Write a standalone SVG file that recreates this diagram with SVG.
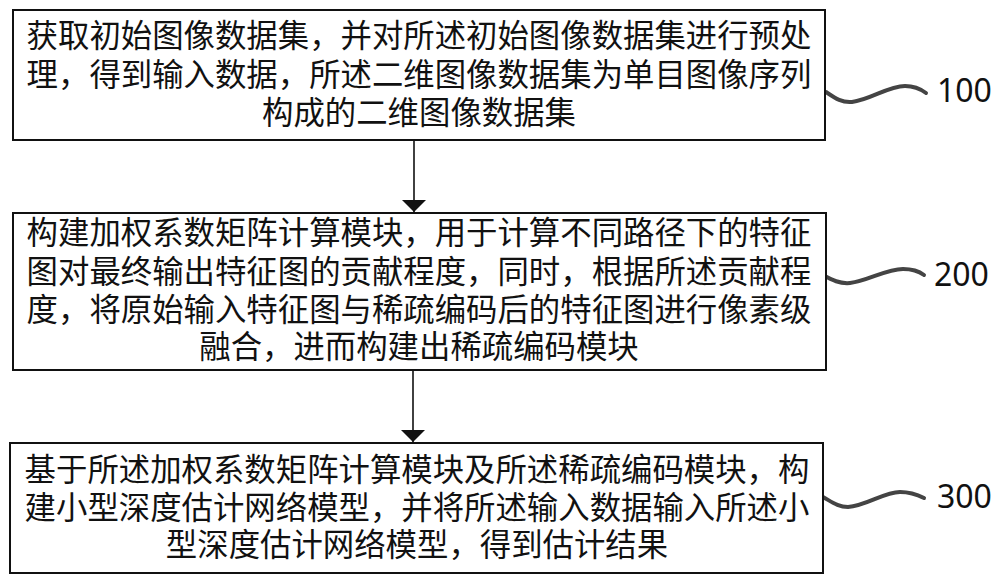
<svg xmlns="http://www.w3.org/2000/svg" width="1000" height="582" viewBox="0 0 1000 582">
<style>
.box{fill:#fff;stroke:#111;stroke-width:2}
.t{font-family:"Noto Sans CJK SC","Microsoft YaHei",sans-serif;font-size:31.4px;fill:#111;text-anchor:middle}
.lbl{font-family:"Noto Sans","Open Sans",sans-serif;font-size:32px;fill:#111}
.sq{fill:none;stroke:#444;stroke-width:4;stroke-linecap:round}
.ar{stroke:#111;stroke-width:1.6;fill:none}
</style>
<defs>
<marker id="ah" markerWidth="12" markerHeight="24" refX="12" refY="12" orient="auto" markerUnits="userSpaceOnUse" viewBox="0 0 12 24"><path d="M0,0 L12,12 L0,24 Z" fill="#111"/></marker>
</defs>
<g id="connectors">
<line class="ar" x1="414" y1="140" x2="414" y2="212" marker-end="url(#ah)"/>
<line class="ar" x1="413" y1="370" x2="413" y2="442" marker-end="url(#ah)"/>
<path class="sq" d="M826,92 C835,98 842,103 852,102 C870,100 888,86 905,86 C915,86 922,90 926,93"/>
<path class="sq" d="M823,275 C832,280 840,284 850,283 C868,281 886,269 903,269 C913,269 920,272 924,275"/>
<path class="sq" d="M823,497 C832,502 838,507 848,507 C866,506 884,492 900,492 C911,492 918,495 924,498"/>
</g>
<g id="node100">
<rect class="box" x="13" y="10" width="812" height="130"/>
<text class="t" x="419" y="47">获取初始图像数据集，并对所述初始图像数据集进行预处</text>
<text class="t" x="419" y="86">理，得到输入数据，所述二维图像数据集为单目图像序列</text>
<text class="t" x="419" y="124">构成的二维图像数据集</text>
<text class="lbl" x="937" y="102">100</text>
</g>
<g id="node200">
<rect class="box" x="13" y="213" width="813" height="157"/>
<text class="t" x="419" y="244">构建加权系数矩阵计算模块，用于计算不同路径下的特征</text>
<text class="t" x="419" y="283">图对最终输出特征图的贡献程度，同时，根据所述贡献程</text>
<text class="t" x="419" y="321">度，将原始输入特征图与稀疏编码后的特征图进行像素级</text>
<text class="t" x="419" y="358">融合，进而构建出稀疏编码模块</text>
<text class="lbl" x="934" y="286">200</text>
</g>
<g id="node300">
<rect class="box" x="10" y="443" width="813" height="130"/>
<text class="t" x="417" y="481">基于所述加权系数矩阵计算模块及所述稀疏编码模块，构</text>
<text class="t" x="417" y="519">建小型深度估计网络模型，并将所述输入数据输入所述小</text>
<text class="t" x="417" y="556">型深度估计网络模型，得到估计结果</text>
<text class="lbl" x="937" y="508">300</text>
</g>
</svg>
